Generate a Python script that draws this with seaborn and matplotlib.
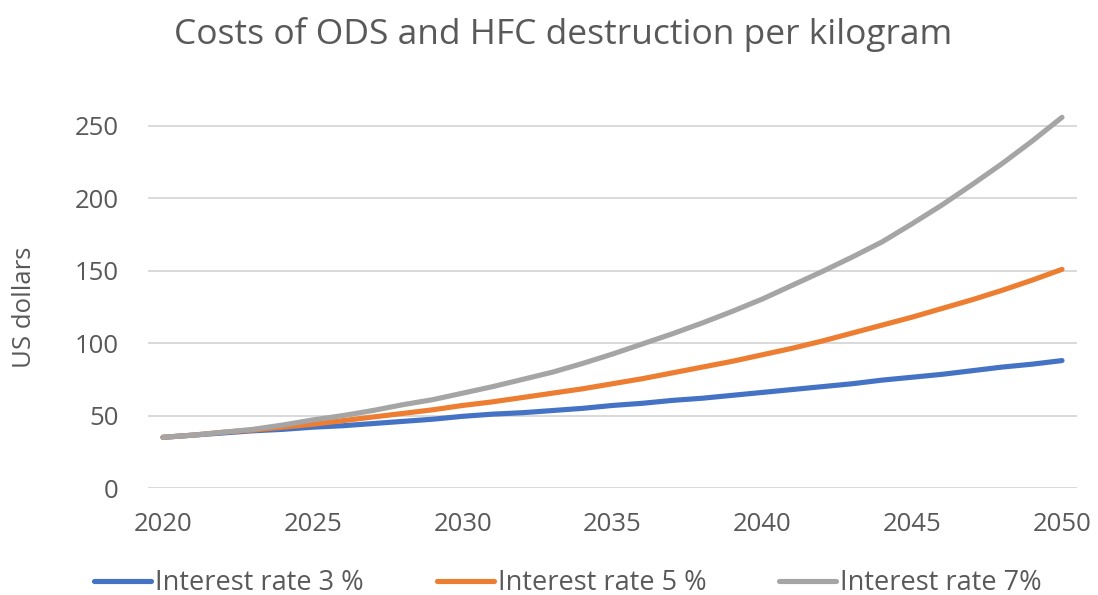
import numpy as np
import pandas as pd
import matplotlib
matplotlib.use("Agg")
import matplotlib.pyplot as plt
import seaborn as sns

# Cost per kilogram (US dollars) of ODS and HFC destruction, 2020-2050
years = list(range(2020, 2051))

rate_3 = [35.0, 36.5, 38.0, 39.5, 40.5, 42.0, 43.0, 44.5, 46.0, 47.5,
          49.5, 51.0, 52.0, 53.5, 55.0, 57.0, 58.5, 60.5, 62.0, 64.0,
          66.0, 68.0, 70.0, 72.0, 74.5, 76.5, 78.5, 81.0, 83.5, 85.5,
          88.0]
rate_5 = [35.0, 36.5, 38.5, 40.0, 42.0, 44.0, 46.5, 49.0, 51.5, 54.0,
          57.0, 59.5, 62.5, 65.5, 68.5, 72.0, 75.5, 79.5, 83.5, 87.5,
          92.0, 96.5, 101.5, 107.0, 112.5, 118.0, 124.0, 130.0, 136.5, 143.5,
          151.0]
rate_7 = [35.0, 36.5, 38.5, 40.5, 43.5, 47.0, 50.0, 53.5, 57.5, 61.0,
          65.5, 70.0, 75.0, 80.0, 86.0, 92.5, 99.5, 106.5, 114.0, 122.0,
          130.5, 140.0, 149.5, 159.5, 170.0, 182.5, 195.5, 209.5, 224.0, 239.5,
          256.0]

series_names = ["Interest rate 3 %", "Interest rate 5 %", "Interest rate 7%"]
series_colors = ["#4472C4", "#ED7D31", "#A5A5A5"]
y_ticks = [0, 50, 100, 150, 200, 250]
x_ticks = [2020, 2025, 2030, 2035, 2040, 2045, 2050]

df = pd.concat([
    pd.DataFrame({"year": years, "cost": vals, "series": name})
    for name, vals in zip(series_names, [rate_3, rate_5, rate_7])
], ignore_index=True)

sns.set_theme(style="white")
plt.rcParams["font.family"] = ["Open Sans", "DejaVu Sans"]

text_color = "#595959"
fig = plt.figure(figsize=(10.98, 5.95), dpi=100)
ax = fig.add_axes([148 / 1098, 1 - 488 / 595, (1077 - 148) / 1098, (488 - 111.5) / 595])

sns.lineplot(data=df, x="year", y="cost", hue="series", hue_order=series_names,
             palette=series_colors, linewidth=3.7, ax=ax, clip_on=False,
             solid_capstyle="round")

ax.set_xlim(2019.5, 2050.5)
ax.set_ylim(0, 260)
ax.set_yticks(y_ticks)
ax.set_xticks(x_ticks)
ax.grid(axis="y", color="#D9D9D9", linewidth=1.4)
ax.grid(axis="x", visible=False)
ax.set_axisbelow(True)
for s in ["top", "right", "left", "bottom"]:
    ax.spines[s].set_visible(False)
ax.tick_params(axis="both", length=0, labelsize=18.5, colors=text_color)
ax.tick_params(axis="y", pad=21)
ax.tick_params(axis="x", pad=17)
ax.set_xlabel("")
ax.set_ylabel("")
fig.text(25 / 1098, 1 - 307 / 595, "US dollars", rotation=90, ha="center",
         va="center", fontsize=18.5, color=text_color)

fig.text(563 / 1098, 1 - 35 / 595, "Costs of ODS and HFC destruction per kilogram",
         ha="center", va="center", fontsize=25.5, color=text_color)

sns.move_legend(ax, "center", bbox_to_anchor=(568 / 1098, 1 - 583 / 595),
                bbox_transform=fig.transFigure, ncol=3, frameon=False, title=None,
                fontsize=19.5, handlelength=2.1, handletextpad=0.15,
                columnspacing=2.7, labelcolor=text_color)

fig.savefig("out.png", dpi=100, facecolor="white")
